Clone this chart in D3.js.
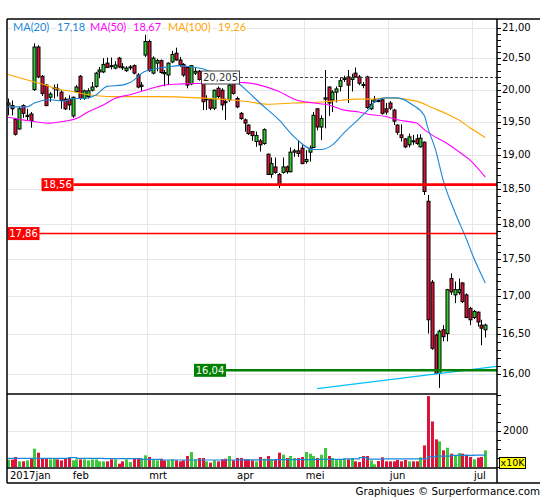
<!DOCTYPE html>
<html><head><meta charset="utf-8">
<script src="https://cdn.jsdelivr.net/npm/d3@7"></script>
<style>body{margin:0;background:#fff}svg{display:block}</style>
</head><body><svg id="c" width="545" height="500"></svg>
<script>
// ---------- DATA ----------
const firstDay = "2017-01-09", lastDay = "2017-07-06";
const holidays = ["2017-04-14","2017-04-17","2017-05-01"];
const monthLabels = ["2017jan","feb","mrt","apr","mei","jun","jul"];
const open  = [19.76,19.75,19.54,19.39,19.75,19.58,19.62,20.00,20.68,20.21,20.07,19.88,20.02,20.01,19.96,19.85,19.85,19.59,19.97,20.21,19.86,19.89,19.99,20.05,20.28,20.28,20.42,20.38,20.34,20.50,20.36,20.30,20.35,20.38,20.23,20.05,20.55,20.77,20.26,20.42,20.46,20.27,20.23,20.44,20.58,20.47,20.40,20.35,20.09,20.26,20.29,20.12,19.84,19.84,19.71,20.02,19.99,19.81,19.84,20.10,19.86,19.63,19.53,19.45,19.35,19.20,19.21,19.17,19.01,18.71,18.82,18.71,18.74,18.82,18.75,19.04,19.06,19.10,18.90,19.04,19.11,19.70,19.42,19.85,20.04,19.84,19.96,20.05,20.16,20.20,20.16,20.26,20.20,20.08,20.20,19.70,19.81,19.83,19.84,19.70,19.79,19.68,19.45,19.30,19.24,19.15,19.21,19.24,19.12,19.19,18.32,17.19,16.49,16.00,16.56,16.51,17.24,17.02,17.05,17.18,17.02,16.84,16.72,16.79,16.62,16.56];
const high  = [19.86,19.83,19.56,19.73,19.77,19.70,19.65,20.74,20.71,20.23,20.09,19.96,20.08,20.09,19.99,19.88,19.91,19.89,20.07,20.23,20.00,20.02,20.12,20.28,20.36,20.50,20.51,20.51,20.45,20.52,20.42,20.37,20.39,20.40,20.26,20.12,20.88,20.80,20.53,20.49,20.48,20.31,20.43,20.62,20.67,20.52,20.42,20.36,20.39,20.34,20.31,20.14,19.91,19.86,20.00,20.05,20.02,19.86,20.10,20.13,19.89,19.65,19.55,19.46,19.36,19.35,19.24,19.40,19.02,18.96,18.96,18.73,18.96,18.84,19.11,19.09,19.21,19.15,19.07,19.14,19.65,19.71,19.60,20.31,20.05,19.99,20.05,20.19,20.22,20.31,20.25,20.35,20.23,20.12,20.22,19.84,19.90,19.86,19.85,19.79,19.82,19.70,19.46,19.46,19.25,19.32,19.30,19.31,19.31,19.20,18.41,17.22,16.51,16.56,16.62,17.10,17.31,17.20,17.24,17.19,17.04,16.86,16.82,16.80,16.69,16.64];
const low   = [19.60,19.60,19.29,19.38,19.56,19.52,19.41,19.98,20.18,19.90,19.74,19.81,19.86,19.89,19.70,19.68,19.68,19.56,19.95,19.84,19.84,19.86,19.97,20.03,20.18,20.26,20.34,20.32,20.32,20.34,20.31,20.28,20.31,20.24,20.02,19.98,20.52,20.28,20.24,20.29,20.25,20.05,20.07,20.42,20.46,20.36,20.20,20.02,20.07,20.23,20.14,19.68,19.68,19.68,19.68,19.86,19.68,19.53,19.81,19.92,19.71,19.53,19.35,19.30,19.21,19.12,19.05,19.15,18.70,18.66,18.72,18.51,18.72,18.72,18.74,18.97,18.97,18.86,18.87,18.90,19.10,19.37,19.22,19.40,19.59,19.65,19.80,19.97,20.12,19.79,19.97,20.19,20.07,20.02,19.70,19.68,19.79,19.80,19.61,19.61,19.68,19.45,19.30,19.20,19.10,19.11,19.15,19.15,19.11,18.41,16.51,16.30,15.99,15.82,16.41,16.41,17.02,16.91,17.02,16.91,16.71,16.62,16.70,16.60,16.36,16.46];
const close = [19.79,19.70,19.31,19.70,19.63,19.60,19.52,20.68,20.20,19.94,19.75,19.93,20.03,20.00,19.83,19.70,19.76,19.88,20.04,19.86,19.98,19.98,20.04,20.26,20.31,20.40,20.35,20.37,20.39,20.36,20.35,20.34,20.36,20.26,20.04,20.07,20.77,20.30,20.50,20.46,20.27,20.25,20.42,20.56,20.47,20.39,20.23,20.07,20.38,20.29,20.16,19.81,19.86,19.71,19.99,19.89,19.76,19.80,20.07,19.94,19.73,19.55,19.48,19.32,19.29,19.29,19.15,19.38,18.71,18.87,18.74,18.55,18.82,18.75,19.04,19.06,19.02,18.87,18.93,19.10,19.60,19.42,19.55,19.87,19.79,19.96,20.01,20.14,20.18,20.07,20.19,20.20,20.10,20.07,19.72,19.77,19.84,19.82,19.63,19.65,19.71,19.51,19.34,19.26,19.12,19.27,19.20,19.17,19.25,18.46,16.69,16.32,16.00,16.54,16.47,17.09,17.06,17.09,17.09,16.93,16.72,16.69,16.80,16.66,16.58,16.62];
const volume = [407,407,555,315,315,370,500,1018,795,463,500,425,500,425,370,500,555,370,425,425,425,370,425,425,315,315,315,425,425,185,315,425,280,460,500,460,650,555,425,370,460,370,370,425,370,315,370,610,830,425,500,500,315,240,370,315,425,460,610,370,500,500,425,425,370,315,555,460,610,425,425,795,685,500,610,500,500,555,830,740,610,500,685,1055,610,500,425,425,460,425,500,315,280,610,610,370,150,330,540,315,315,315,390,315,390,315,315,315,540,1200,3940,2530,1535,1425,925,1070,740,650,780,740,685,555,425,520,555,925];
// moving averages: [day index, value]
const ma20  = [[0,19.73],[5,19.73],[7,19.79],[11,19.84],[15,19.82],[17,19.86],[20,19.86],[23,19.91],[26,20.05],[30,20.07],[32,20.11],[36,20.29],[42,20.36],[45,20.38],[48,20.36],[51,20.33],[53,20.29],[57,20.23],[60,20.12],[63,19.96],[66,19.79],[71,19.53],[75,19.27],[80,19.08],[82,19.08],[85,19.15],[88,19.33],[92,19.55],[95,19.73],[96,19.81],[99,19.87],[102,19.87],[106,19.76],[109,19.60],[110,19.40],[112,19.07],[114,18.62],[117,18.17],[120,17.79],[122,17.52],[125,17.18]];
const ma50  = [[0,19.57],[4,19.53],[11,19.48],[15,19.51],[18,19.55],[21,19.65],[25,19.76],[28,19.86],[32,19.92],[36,19.99],[41,20.07],[46,20.09],[51,20.10],[57,20.12],[62,20.11],[66,20.07],[71,19.97],[75,19.85],[80,19.79],[84,19.76],[88,19.68],[92,19.65],[94,19.62],[99,19.58],[102,19.53],[107,19.48],[109,19.38],[111,19.30],[115,19.17],[118,19.05],[121,18.92],[125,18.67]];
const ma100 = [[0,20.24],[4,20.17],[10,20.07],[13,20.01],[17,19.97],[20,19.93],[24,19.90],[28,19.89],[32,19.89],[40,19.89],[50,19.87],[58,19.84],[63,19.81],[68,19.77],[75,19.79],[83,19.81],[87,19.83],[91,19.85],[95,19.85],[99,19.87],[104,19.85],[108,19.80],[111,19.72],[115,19.62],[118,19.53],[121,19.41],[125,19.26]];
const volMA = [[0,480],[12,480],[16,520],[18,480],[25,470],[33,470],[35,420],[40,390],[50,390],[60,400],[70,410],[80,420],[88,450],[92,520],[94,440],[98,450],[105,450],[109,470],[110,560],[112,600],[116,650],[122,660],[125,700]];
const trendLine = [[81,15.81],[128,16.09]];
const levels = [{v:18.56,label:"18,56",color:"#ff0000",w:2.6},{v:17.86,label:"17,86",color:"#ff0000",w:1.4},{v:16.04,label:"16,04",color:"#008000",w:2.6}];
const marker = {v:20.205,label:"20,205"};
const legend = [{name:"MA(20)",val:"17,18",color:"#1a86d8"},{name:"MA(50)",val:"18,67",color:"#ff00ff"},{name:"MA(100)",val:"19,26",color:"#ffa500"}];
const priceTicks = [16,16.5,17,17.5,18,18.5,19,19.5,20,20.5,21];
const volTicks = [2000];

// ---------- LAYOUT ----------
const L=7, R=497, T=19, mainB=394, volB=468, B=483;
const svg=d3.select("#c");
const fmt = v => d3.format(".2f")(v).replace(".",",");

// trading days
const hol=new Set(holidays);
const dates=[];
for(let d=new Date(firstDay+"T00:00:00Z"); d<=new Date(lastDay+"T00:00:00Z"); d.setUTCDate(d.getUTCDate()+1)){
  const wd=d.getUTCDay(), s=d.toISOString().slice(0,10);
  if(wd>0&&wd<6&&!hol.has(s)) dates.push(s);
}
const n=dates.length;
const x=d3.scaleLinear().domain([0,n-1]).range([7.7,485.3]);
const step=x(1)-x(0);
const y=d3.scaleLog().domain([16,21]).range([373.5,27.5]);
const yv=d3.scaleLinear().domain([0,4000]).range([467,395]);

const defs=svg.append("defs");
defs.append("clipPath").attr("id","cm").append("rect").attr("x",L).attr("y",T).attr("width",R-L).attr("height",mainB-T);
defs.append("clipPath").attr("id","cv").append("rect").attr("x",L).attr("y",mainB).attr("width",R-L).attr("height",volB-mainB);

// month boundaries
const monthStarts=[];
dates.forEach((d,i)=>{ if(i>0 && d.slice(5,7)!==dates[i-1].slice(5,7)) monthStarts.push(i); });

// grid
const grid=svg.append("g").attr("stroke","#e6e6e6").attr("stroke-width",1);
priceTicks.forEach(v=>grid.append("line").attr("x1",L).attr("x2",R).attr("y1",Math.round(y(v))+0.5).attr("y2",Math.round(y(v))+0.5));
monthStarts.forEach(i=>{const gx=Math.round(x(i)-step/2)+0.5;
  grid.append("line").attr("x1",gx).attr("x2",gx).attr("y1",T).attr("y2",volB);});
volTicks.forEach(v=>grid.append("line").attr("x1",L).attr("x2",R).attr("y1",Math.round(yv(v))+0.5).attr("y2",Math.round(yv(v))+0.5));

// candles
const gm=svg.append("g").attr("clip-path","url(#cm)");
const idx=d3.range(n);
gm.append("g").selectAll("line").data(idx).join("line")
  .attr("x1",i=>Math.round(x(i))+0.5).attr("x2",i=>Math.round(x(i))+0.5)
  .attr("y1",i=>y(high[i])).attr("y2",i=>y(low[i])).attr("stroke","#000").attr("stroke-width",1);
gm.append("g").selectAll("rect").data(idx).join("rect")
  .attr("x",i=>Math.round(x(i))-1)
  .attr("width",3)
  .attr("y",i=>y(Math.max(open[i],close[i])))
  .attr("height",i=>Math.max(1,Math.abs(y(open[i])-y(close[i]))))
  .attr("fill",i=>close[i]>=open[i]?"#32cd32":"#dc143c")
  .attr("stroke","#000").attr("stroke-width",1);

// moving averages
const line=d3.line().x(d=>x(d[0])).y(d=>y(d[1])).curve(d3.curveMonotoneX);
[[ma100,"#ffa500"],[ma50,"#ff00ff"],[ma20,"#1a86d8"]].forEach(([d,c])=>
  gm.append("path").attr("d",line(d)).attr("fill","none").attr("stroke",c).attr("stroke-width",1.1));

// trend line
gm.append("line").attr("x1",x(trendLine[0][0])).attr("y1",y(trendLine[0][1]))
  .attr("x2",x(trendLine[1][0])).attr("y2",y(trendLine[1][1]))
  .attr("stroke","#00bfff").attr("stroke-width",1.2);

// level lines with labels
const labelX={"18,56":41.5,"17,86":7.5,"16,04":194};
levels.forEach(l=>{
  const ly=y(l.v), bx=labelX[l.label], bw=32;
  svg.append("line").attr("x1",bx+bw).attr("x2",R).attr("y1",ly).attr("y2",ly).attr("stroke",l.color).attr("stroke-width",l.w);
  svg.append("rect").attr("x",bx).attr("y",ly-6.5).attr("width",bw).attr("height",13).attr("fill",l.color==="#008000"?"#008000":"#ff0000");
  svg.append("text").attr("x",bx+bw/2).attr("y",ly+0.5).attr("text-anchor","middle").attr("dominant-baseline","middle")
    .attr("font-family","DejaVu Sans").attr("font-size",10).attr("fill","#fff").text(l.label);
});

// 20,205 marker
{const my=Math.round(y(marker.v))+0.5;
 svg.append("line").attr("x1",240).attr("x2",R).attr("y1",my).attr("y2",my).attr("stroke","#444").attr("stroke-dasharray","3,2");
 svg.append("rect").attr("x",201.5).attr("y",my-6.5).attr("width",38).attr("height",13).attr("fill","#fff").attr("stroke","#444");
 svg.append("text").attr("x",220.5).attr("y",my+0.5).attr("text-anchor","middle").attr("dominant-baseline","middle")
   .attr("font-family","DejaVu Sans").attr("font-size",10).attr("fill","#333").text(marker.label);}

// volume
const gv=svg.append("g").attr("clip-path","url(#cv)");
gv.selectAll("rect").data(idx).join("rect")
  .attr("x",i=>Math.round(x(i))-1).attr("width",3)
  .attr("y",i=>yv(volume[i])).attr("height",i=>yv(0)-yv(volume[i]))
  .attr("fill",i=>close[i]>=open[i]?"#3cc83c":"#dc143c");
gv.append("path").attr("d",d3.line().x(d=>x(d[0])).y(d=>yv(d[1])).curve(d3.curveStepAfter)(volMA))
  .attr("fill","none").attr("stroke","#1a86d8").attr("stroke-width",1.2);

// frame
const fr=svg.append("g").attr("stroke","#000").attr("stroke-width",1.5).attr("fill","none");
fr.append("line").attr("x1",L).attr("x2",540).attr("y1",T).attr("y2",T);
fr.append("line").attr("x1",L).attr("x2",L).attr("y1",T).attr("y2",B);
fr.append("line").attr("x1",L).attr("x2",540).attr("y1",B).attr("y2",B);
fr.append("line").attr("x1",L).attr("x2",R).attr("y1",mainB).attr("y2",mainB);
fr.append("line").attr("x1",L).attr("x2",R).attr("y1",volB).attr("y2",volB);
fr.append("line").attr("x1",R).attr("x2",R).attr("y1",T).attr("y2",B);

// right price axis
const ax=svg.append("g");
d3.range(16,21.001,0.1).forEach(v=>{const ty=Math.round(y(v))+0.5;
  ax.append("line").attr("x1",R).attr("x2",R+4).attr("y1",ty).attr("y2",ty).attr("stroke","#000");});
priceTicks.forEach(v=>ax.append("text").attr("x",R+5).attr("y",y(v)).attr("dominant-baseline","middle")
  .attr("font-family","DejaVu Sans").attr("font-size",10).attr("fill","#000").text(fmt(v)));
// volume axis
d3.range(0,4001,500).forEach(v=>{const ty=Math.round(yv(v))+0.5;
  ax.append("line").attr("x1",R).attr("x2",R+4).attr("y1",ty).attr("y2",ty).attr("stroke","#000");});
volTicks.forEach(v=>ax.append("text").attr("x",R+6).attr("y",yv(v)).attr("dominant-baseline","middle")
  .attr("font-family","DejaVu Sans").attr("font-size",10).attr("fill","#000").text(v));
ax.append("rect").attr("x",499.5).attr("y",457.5).attr("width",26).attr("height",11).attr("fill","#ffff00").attr("stroke","#000");
ax.append("text").attr("x",512.5).attr("y",463.5).attr("text-anchor","middle").attr("dominant-baseline","middle")
  .attr("font-family","DejaVu Sans").attr("font-size",9.5).attr("fill","#000").text("x10K");

// month labels
const mPos=[0,...monthStarts];
mPos.forEach((i,k)=>{const lx = k===0 ? 10 : x(i)-step/2+2;
  svg.append("text").attr("x",lx).attr("y",479).attr("font-family","DejaVu Sans").attr("font-size",10).attr("fill","#000").text(monthLabels[k]);});

// legend
let lxp=13;
const lg=svg.append("g");
const legX=[[13,57],[90,133],[168,218]];
legend.forEach((l,k)=>{
  [[l.name,legX[k][0]],[l.val,legX[k][1]]].forEach(([t,px])=>{
    const tx=lg.append("text").attr("x",px).attr("y",31).attr("font-family","Lato").attr("font-size",11).attr("fill",l.color).text(t);
    const bb=tx.node().getBBox();
    lg.insert("rect","text").attr("x",bb.x-1).attr("y",bb.y).attr("width",bb.width+2).attr("height",bb.height).attr("fill","#fff");
  });
});

// credit
svg.append("text").attr("x",540).attr("y",495).attr("text-anchor","end").attr("font-family","DejaVu Sans").attr("font-size",10.3).attr("fill","#000").text("Graphiques © Surperformance.com");
</script></body></html>
